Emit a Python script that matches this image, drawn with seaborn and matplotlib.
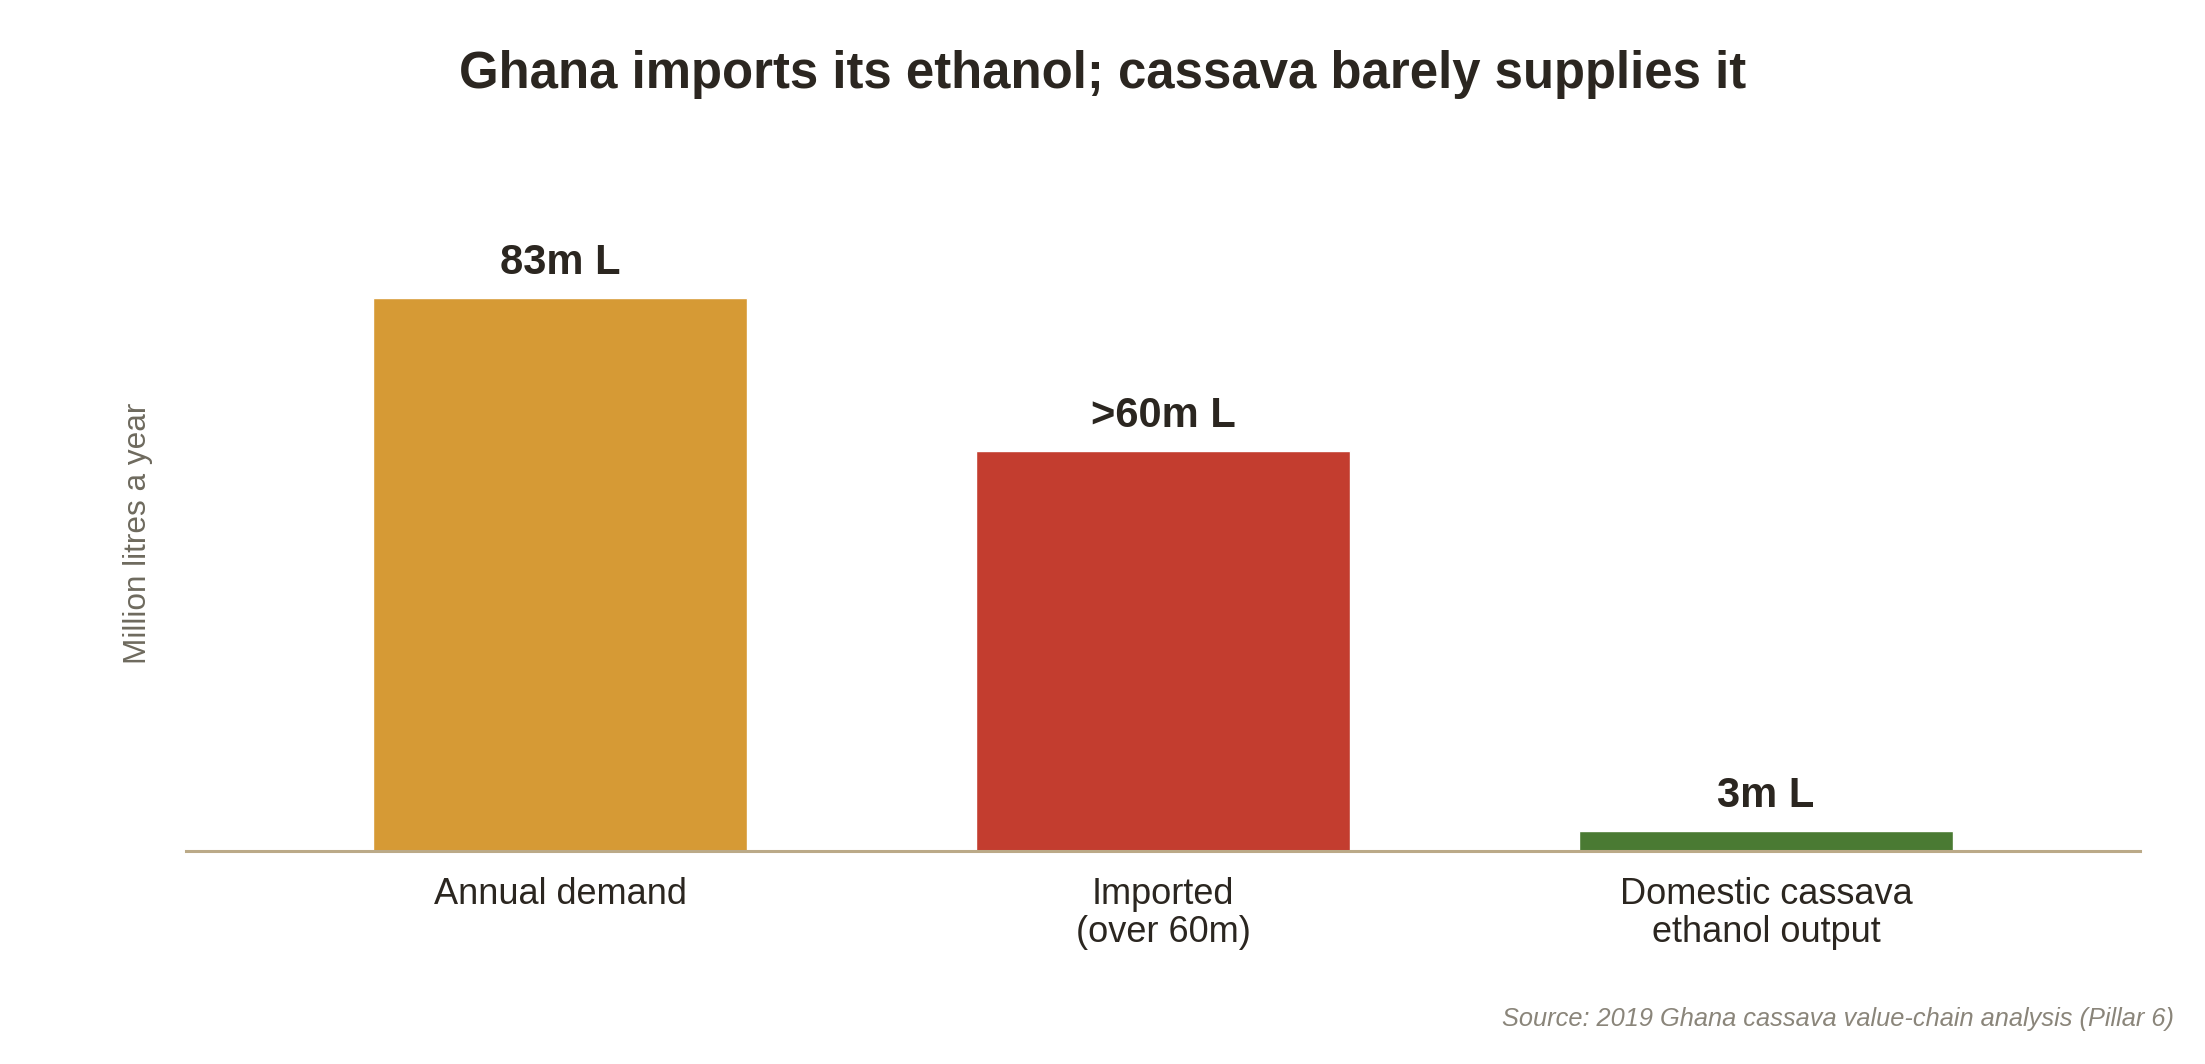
import numpy as np
import pandas as pd
import matplotlib
matplotlib.use("Agg")
import matplotlib.pyplot as plt
import seaborn as sns

# Data
categories = ["Annual demand", "Imported\n(over 60m)", "Domestic cassava\nethanol output"]
volumes = [83, 60, 3]
value_labels = ["83m L", ">60m L", "3m L"]
bar_colors = ["#D69A35", "#C33D2F", "#4A7A33"]

df = pd.DataFrame({"category": categories, "volume": volumes})

sns.set_theme(style="white")
plt.rcParams["font.family"] = ["Liberation Sans", "DejaVu Sans"]

text_dark = "#2B2620"

fig = plt.figure(figsize=(22.05, 10.64), dpi=100)
ax = fig.add_axes([0.0844, 0.2002, 0.8861, 0.5977])

sns.barplot(data=df, x="category", y="volume", hue="category",
            palette=bar_colors, width=0.62, saturation=1, legend=False, ax=ax)

for container, lab in zip(ax.containers, value_labels):
    ax.bar_label(container, labels=[lab], padding=11, fontsize=30,
                 fontweight="bold", color=text_dark)

ax.set_xlim(-0.62, 2.62)
ax.set_ylim(0, max(volumes) * 1.15)
ax.set_yticks([])
ax.set_xlabel("")
ax.set_ylabel("Million litres a year", fontsize=22.7, color="#6E6A5E", labelpad=24)

ax.tick_params(axis="x", length=0, pad=19, labelsize=26, labelcolor=text_dark)
for lbl in ax.get_xticklabels():
    lbl.set_linespacing(1.1)

for side in ["top", "right", "left"]:
    ax.spines[side].set_visible(False)
ax.spines["bottom"].set_color("#BBAA88")
ax.spines["bottom"].set_linewidth(2.2)

fig.suptitle("Ghana imports its ethanol; cassava barely supplies it",
             x=0.5, y=0.930, va="center", fontsize=36.6, fontweight="bold",
             color=text_dark)

fig.text(0.986, 0.0423, "Source: 2019 Ghana cassava value-chain analysis (Pillar 6)",
         ha="right", va="center", fontsize=18.3, style="italic", color="#8A857A")

fig.savefig("out.png", dpi=100)
plt.close(fig)
